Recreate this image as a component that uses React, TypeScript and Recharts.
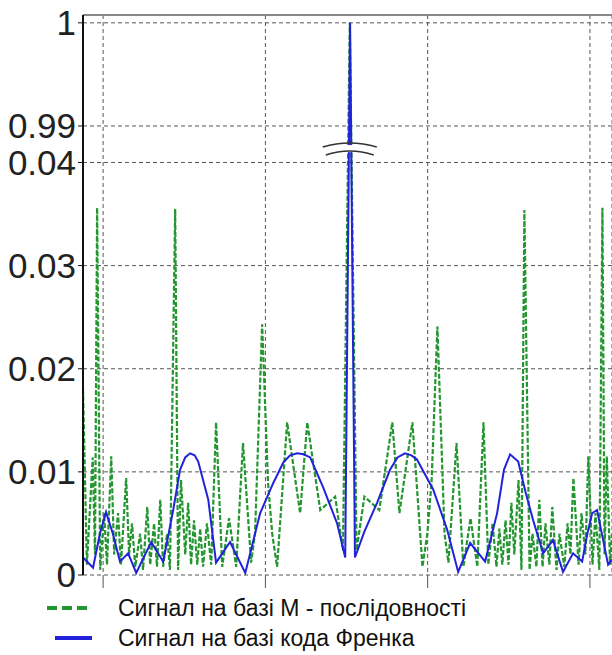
import {
  LineChart,
  Line,
  XAxis,
  YAxis,
  CartesianGrid,
  ReferenceLine,
  ReferenceDot,
} from "recharts";

const FONT = '"Liberation Sans", Arial, Helvetica, sans-serif';

// broken y axis: 0.04 .. 0.99 is squeezed into a short gap
const LOW_TOP = 0.04;
const HIGH_BOTTOM = 0.99;
const GAP = 0.00354;
const Y_MAX = 0.0543;
const BREAK_AT = 0.0413;

const xDomain = [-6.2, 156.8];
const xTicks = [0, 50, 100, 150];
const yTickValues = [0, 0.01, 0.02, 0.03, 0.04, 0.99, 1];

const seriesNames = [
  "Сигнал на базі М - послідовності",
  "Сигнал на базі кода Френка",
];
const seriesColors = ["#23962f", "#2222dc"];

// М-послідовність (green dashed)
const mLag = [
  -6.2, -5.0, -3.2, -2.5, -1.85, -0.9, 0.3, 1.2, 2.5, 3.4, 4.6, 5.5, 7.1, 8.0,
  8.9, 9.9, 11.4, 12.3, 13.6, 14.5, 15.7, 16.6, 17.6, 18.5, 19.7, 20.6, 22.2,
  23.1, 24.0, 25.3, 26.2, 27.1, 28.0, 29.0, 29.9, 30.8, 32.0, 33.3, 34.8, 36.7,
  38.8, 41.0, 43.1, 45.6, 46.8, 49.0, 50.8, 52.1, 53.6, 56.7, 60.7, 62.9, 66.9,
  71.5, 73.9, 76.0, 78.1, 80.5, 85.1, 89.1, 91.3, 95.3, 98.4, 99.9, 101.2,
  103.0, 105.2, 106.4, 108.9, 111.0, 113.2, 115.3, 117.2, 118.7, 120.0, 121.2,
  122.1, 123.0, 124.0, 124.9, 125.8, 126.7, 128.0, 128.9, 129.8, 131.4, 132.3,
  133.5, 134.4, 135.4, 136.3, 137.5, 138.4, 139.7, 140.6, 142.1, 143.1, 144.0,
  144.9, 146.5, 147.4, 148.6, 149.5, 150.8, 151.7, 152.9, 153.85, 154.5, 155.2,
  156.2, 156.8,
];
const mLevel = [
  0.018, 0.001, 0.0114, 0.002, 0.0356, 0.0005, 0.006, 0.001, 0.0115, 0.002,
  0.006, 0.001, 0.0094, 0.002, 0.005, 0.0008, 0.004, 0.0005, 0.0066, 0.001,
  0.005, 0.0008, 0.0073, 0.0008, 0.004, 0.0005, 0.0355, 0.0005, 0.0092, 0.002,
  0.007, 0.001, 0.0053, 0.001, 0.0045, 0.0008, 0.005, 0.001, 0.0148, 0.0008,
  0.0055, 0.0008, 0.0128, 0.0012, 0.004, 0.0243, 0.009, 0.004, 0.0008, 0.0148,
  0.006, 0.0148, 0.0063, 0.0076, 0.0024, 1, 0.0024, 0.0076, 0.0063, 0.0148,
  0.006, 0.0148, 0.0008, 0.004, 0.009, 0.0241, 0.004, 0.0012, 0.0128, 0.0008,
  0.0055, 0.0008, 0.0148, 0.001, 0.005, 0.0008, 0.0045, 0.001, 0.0053, 0.001,
  0.007, 0.002, 0.0092, 0.0005, 0.0354, 0.0005, 0.004, 0.0008, 0.0073, 0.0008,
  0.005, 0.001, 0.0066, 0.0005, 0.004, 0.0008, 0.005, 0.002, 0.0094, 0.001,
  0.006, 0.002, 0.0115, 0.001, 0.006, 0.0005, 0.0356, 0.002, 0.0115, 0.001,
  0.004,
];

// код Френка (blue solid)
const frankLag = [
  -6.2, -3.1, -1.0, 0.9, 3.0, 5.2, 7.7, 10.2, 14.8, 18.5, 21.6, 23.7, 25.3,
  26.8, 28.2, 29.3, 32.4, 34.8, 39.1, 43.8, 48.4, 52.4, 55.5, 57.6, 59.8, 61.8,
  63.8, 67.8, 72.1, 74.6, 76.1, 77.6, 80.5, 84.4, 88.4, 90.7, 93.0, 95.0, 96.7,
  101.7, 106.0, 109.4, 113.1, 117.7, 121.4, 123.5, 125.4, 127.9, 130.2, 132.5,
  135.6, 138.6, 141.7, 144.8, 147.6, 149.2, 150.7, 152.2, 155.6, 156.8,
];
const frankLevel = [
  0.0017, 0.0007, 0.004, 0.0061, 0.004, 0.0013, 0.0021, 0.0002, 0.0032, 0.0013,
  0.0063, 0.0102, 0.0114, 0.0118, 0.0116, 0.011, 0.0073, 0.0012, 0.0032, 0.0002,
  0.006, 0.0089, 0.0109, 0.0116, 0.0118, 0.0117, 0.0114, 0.0085, 0.005, 0.0017,
  1, 0.0017, 0.0042, 0.007, 0.0102, 0.0114, 0.0118, 0.0116, 0.0112, 0.0083,
  0.0044, 0.0003, 0.0031, 0.0013, 0.006, 0.0102, 0.0117, 0.011, 0.008, 0.0053,
  0.0021, 0.0034, 0.0003, 0.0021, 0.0013, 0.004, 0.006, 0.0063, 0.001, 0.0015,
];

function toAxis(v: number) {
  if (v <= LOW_TOP) return v;
  return LOW_TOP + GAP + (v - HIGH_BOTTOM);
}

function fromAxis(t: number) {
  if (t <= LOW_TOP + 1e-9) return t;
  return t - LOW_TOP - GAP + HIGH_BOTTOM;
}

const mData = mLag.map((x, i) => ({ x, y: toAxis(mLevel[i]) }));
const frankData = frankLag.map((x, i) => ({ x, y: toAxis(frankLevel[i]) }));

function BreakMark(props: { cx?: number; cy?: number }) {
  const { cx = 0, cy = 0 } = props;
  return (
    <g>
      <rect x={cx - 30} y={cy - 4} width={60} height={7} fill="#fff" />
      <path
        d={`M${cx - 27},${cy - 2} Q${cx},${cy - 10} ${cx + 27},${cy - 2}`}
        fill="none"
        stroke="#333"
        strokeWidth={1.5}
      />
      <path
        d={`M${cx - 24},${cy + 6} Q${cx},${cy - 2} ${cx + 24},${cy + 6}`}
        fill="none"
        stroke="#333"
        strokeWidth={1.5}
      />
    </g>
  );
}

export default function App() {
  return (
    <div
      style={{
        position: "absolute",
        left: 0,
        top: 0,
        width: 612,
        height: 655,
        background: "#fff",
        fontFamily: FONT,
      }}
    >
      <LineChart
        width={612}
        height={600}
        margin={{ top: 15, right: 0, bottom: 10, left: 0 }}
      >
        <CartesianGrid stroke="#555" strokeDasharray="4 3" />
        <XAxis
          type="number"
          dataKey="x"
          domain={xDomain}
          ticks={xTicks}
          allowDataOverflow
          height={15}
          axisLine={false}
          tickSize={13}
          tickLine={{ stroke: "#555" }}
          tickFormatter={() => ""}
        />
        <YAxis
          type="number"
          domain={[0, Y_MAX]}
          ticks={yTickValues.map(toAxis)}
          interval={0}
          allowDataOverflow
          width={83}
          axisLine={{ stroke: "#111", strokeWidth: 2 }}
          tickLine={{ stroke: "#111" }}
          tickSize={5}
          tickFormatter={(t: number) => String(Number(fromAxis(t).toFixed(2)))}
          tick={{ fill: "#222", fontSize: 35, fontFamily: FONT }}
        />
        <ReferenceLine y={Y_MAX} stroke="#888" strokeWidth={2} />
        <Line
          data={mData}
          dataKey="y"
          type="linear"
          stroke={seriesColors[0]}
          strokeWidth={2.2}
          strokeDasharray="5 2"
          dot={false}
          isAnimationActive={false}
        />
        <Line
          data={frankData}
          dataKey="y"
          type="linear"
          stroke={seriesColors[1]}
          strokeWidth={2}
          dot={false}
          isAnimationActive={false}
        />
        <ReferenceDot x={76} y={BREAK_AT} r={0} shape={<BreakMark />} />
      </LineChart>
      {seriesNames.map((name, i) => (
        <div
          key={name}
          style={{
            position: "absolute",
            left: 47,
            top: 595 + i * 30,
            height: 26,
            display: "flex",
            alignItems: "center",
            fontSize: 23,
            color: "#111",
          }}
        >
          <svg width={60} height={10}>
            <line
              x1={i === 0 ? 0 : 8}
              y1={5}
              x2={45}
              y2={5}
              stroke={seriesColors[i]}
              strokeWidth={4}
              strokeDasharray={i === 0 ? "10 5" : undefined}
            />
          </svg>
          <span style={{ marginLeft: 11 }}>{name}</span>
        </div>
      ))}
    </div>
  );
}
